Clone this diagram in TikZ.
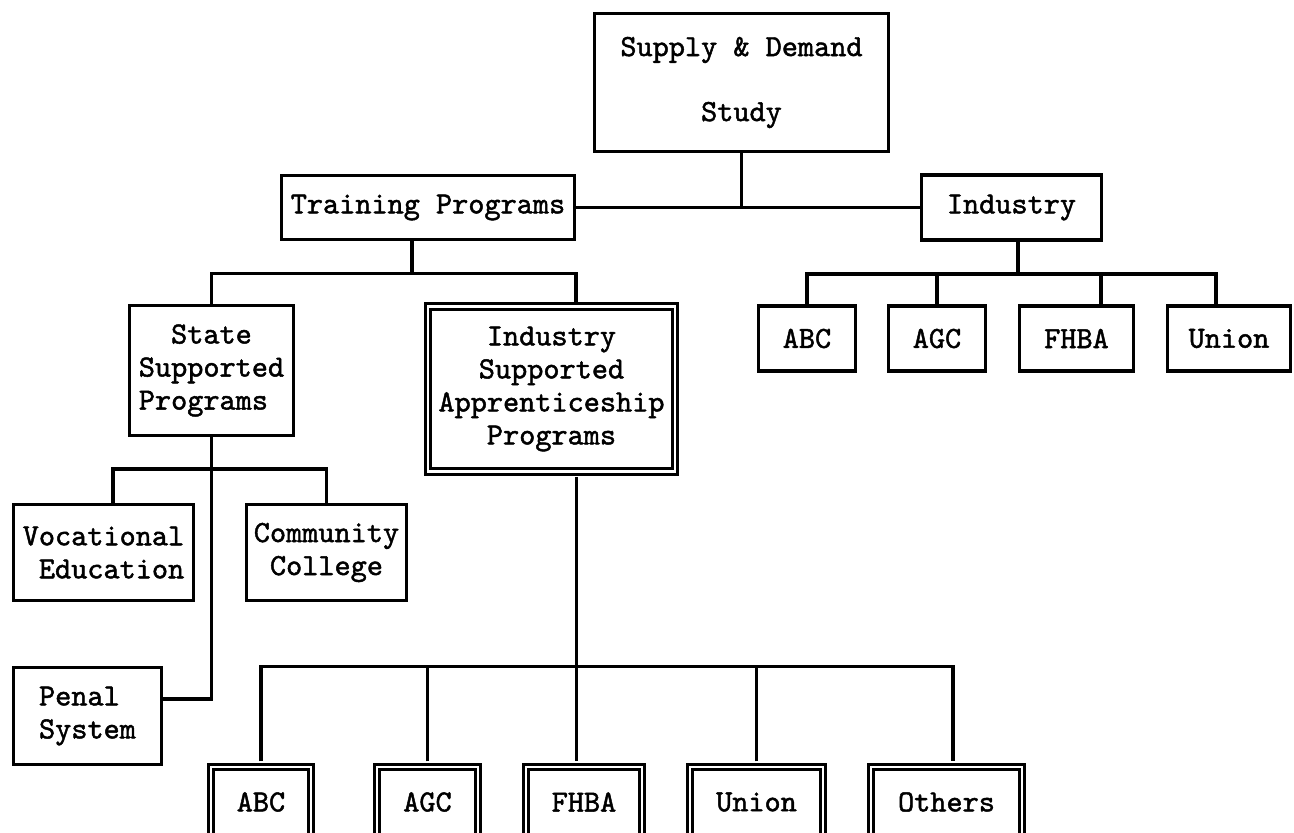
\documentclass[tikz,border=0pt]{standalone}
\usepackage{fontspec}
\usepackage{tikz}
\usetikzlibrary{positioning}
\newfontfamily\chartfont{lmmono10-regular.otf}[FakeBold=1.5]

\begin{document}
\begin{tikzpicture}[node distance=2cm]
\tikzstyle{unit} = [rectangle, draw, line width=1.8pt, align=center, inner sep=1pt, font=\fontsize{17.5}{18.8}\selectfont\chartfont]
\tikzstyle{dunit} = [unit, line width=1.6pt, double, double distance=1.6pt]
\tikzstyle{link} = [line width=1.8pt]
\tikzstyle{dlink} = [link, shorten <=2.4pt]

\useasboundingbox (-14.83,-15.01) rectangle (11.05,1.65);

\node (sd) [unit, minimum width=5.88cm, minimum height=2.76cm] {Supply \& Demand\\[0.64cm]Study};
\node (tp) [unit, below of=sd, xshift=-6.27cm, yshift=-0.5cm, minimum width=5.86cm, minimum height=1.28cm] {Training Programs};
\node (ind) [unit, right of=tp, xshift=9.67cm, minimum width=3.6cm, minimum height=1.3cm] {Industry};
\node (ssp) [unit, align=left, below of=tp, xshift=-4.33cm, yshift=-1.26cm, minimum width=3.28cm, minimum height=2.6cm] {\phantom{xx}State\\Supported\\Programs};
\node (isa) [dunit, below of=tp, xshift=2.47cm, yshift=-1.63cm, minimum width=4.94cm, minimum height=3.3cm] {Industry\\Supported\\Apprenticeship\\Programs};

% industry members
\node (rabc) [unit, below of=ind, xshift=-4.09cm, yshift=-0.62cm, minimum width=1.94cm, minimum height=1.3cm] {ABC};
\node (ragc) [unit, right of=rabc, xshift=0.6cm, minimum width=1.94cm, minimum height=1.3cm] {AGC};
\node (rfhba) [unit, right of=ragc, xshift=0.79cm, minimum width=2.28cm, minimum height=1.3cm] {FHBA};
\node (runion) [unit, right of=rfhba, xshift=1.05cm, minimum width=2.46cm, minimum height=1.3cm] {Union};

% state programs
\node (voc) [unit, align=right, below of=ssp, xshift=-2.16cm, yshift=-1.64cm, minimum width=3.6cm, minimum height=1.92cm] {Vocational\\Education};
\node (com) [unit, right of=voc, xshift=2.46cm, minimum width=3.2cm, minimum height=1.92cm] {Community\\College};
\node (pen) [unit, align=left, below of=voc, xshift=-0.32cm, yshift=-1.27cm, minimum width=2.96cm, minimum height=1.94cm] {Penal\\System};

% apprenticeship programs
\node (babc) [dunit, below of=isa, xshift=-5.81cm, yshift=-6.26cm, minimum width=2.0cm, minimum height=1.4cm] {ABC};
\node (bagc) [dunit, right of=babc, xshift=1.33cm, minimum width=2.02cm, minimum height=1.4cm] {AGC};
\node (bfhba) [dunit, right of=bagc, xshift=1.13cm, minimum width=2.32cm, minimum height=1.4cm] {FHBA};
\node (bunion) [dunit, right of=bfhba, xshift=1.45cm, minimum width=2.66cm, minimum height=1.4cm] {Union};
\node (bothers) [dunit, right of=bunion, xshift=1.80cm, minimum width=3.02cm, minimum height=1.4cm] {Others};

\draw [link] (sd) -- (sd |- tp);
\draw [link] (tp) -- (ind);

\draw [link] ([xshift=-0.32cm]tp.south) -- ++(0,-0.65) coordinate (tbar);
\draw [link] (ssp) |- (tbar) -| ([xshift=0.49cm]isa.north);

\path (ssp.south) ++(0,-0.64) coordinate (sbar);
\draw [link] ([xshift=0.19cm]voc.north) |- (sbar) -| (com);
\draw [link] (ssp) |- ([yshift=0.34cm]pen.east);

\draw [link] ([xshift=0.13cm]ind.south) -- ++(0,-0.65) coordinate (ibar);
\draw [link] (rabc) |- (ibar) -| ([xshift=-0.26cm]runion.north);
\draw [link] (ragc) -- (ragc |- ibar);
\draw [link] ([xshift=0.49cm]rfhba.north) -- ([xshift=0.49cm]rfhba.north |- ibar);

\draw [dlink, shorten >=2.4pt] ([xshift=0.5cm]isa.south) -- ([xshift=0.5cm]isa.south |- bfhba.north);
\path (bfhba.north) ++(0,1.98) coordinate (bbar);
\draw [dlink, shorten >=2.4pt] (babc) |- (bbar) -| ([xshift=0.13cm]bothers.north);
\draw [dlink] (bagc) -- (bagc |- bbar);
\draw [dlink] (bunion) -- (bunion |- bbar);

\end{tikzpicture}
\end{document}
